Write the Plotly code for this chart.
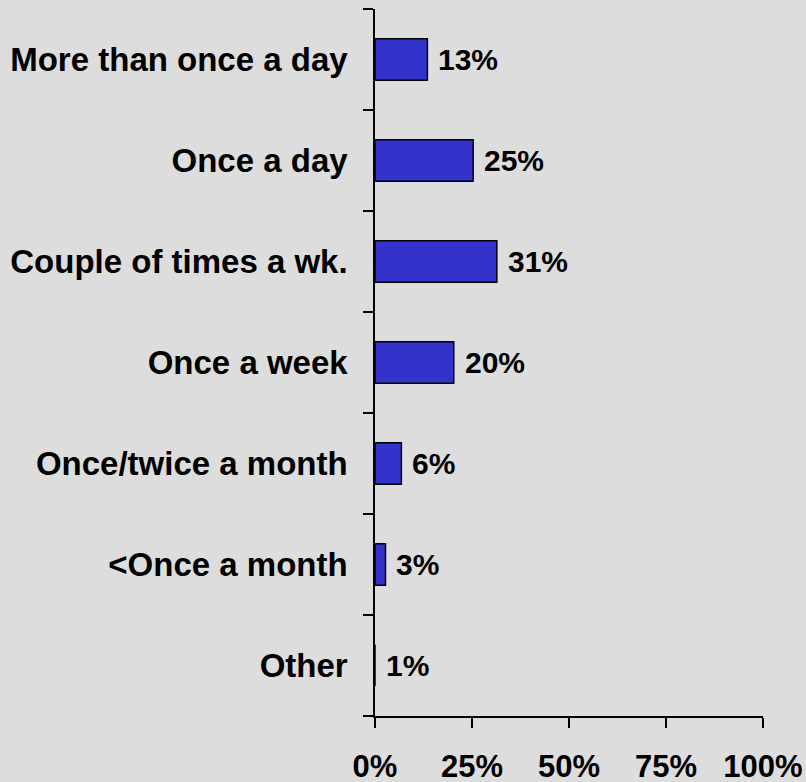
import plotly.graph_objects as go

categories = ["More than once a day", "Once a day", "Couple of times a wk.",
              "Once a week", "Once/twice a month", "<Once a month", "Other"]
values = [13.5, 25.3, 31.4, 20.3, 6.8, 2.7, 0.0]
labels = ["13%", "25%", "31%", "20%", "6%", "3%", "1%"]
tick_vals = [0, 25, 50, 75, 100]
tick_text = ["0%", "25%", "50%", "75%", "100%"]

BG = "#DDDDDD"
FONT = "Liberation Sans, Arial, sans-serif"

fig = go.Figure()
fig.add_trace(go.Bar(
    x=values, y=categories, orientation="h",
    marker=dict(color="#3333CC", line=dict(color="black", width=1.5)),
    hoverinfo="skip",
))

for c, v, t in zip(categories, values, labels):
    fig.add_annotation(x=v, y=c, text="<b>%s</b>" % t, showarrow=False,
                       xanchor="left", yanchor="middle", xshift=9,
                       font=dict(size=30, color="black", family=FONT))

fig.update_layout(
    width=806, height=782,
    margin=dict(l=374.5, r=42.5, t=9, b=66, autoexpand=False),
    paper_bgcolor=BG, plot_bgcolor=BG,
    showlegend=False, bargap=0.59,
    font=dict(family=FONT, color="black"),
)
fig.update_xaxes(
    range=[0, 100], tickvals=tick_vals, ticktext=["<b>%s</b>" % s for s in tick_text],
    showgrid=False, zeroline=False, showline=True, linecolor="black", linewidth=1.5,
    ticks="outside", ticklen=10, tickwidth=1.5, tickcolor="black",
    tickfont=dict(size=31, family=FONT), ticklabelstandoff=12, automargin=False,
)
fig.update_yaxes(
    categoryorder="array", categoryarray=categories, autorange="reversed",
    tickvals=categories, ticktext=["<b>%s</b>" % s for s in categories],
    tickson="boundaries",
    showgrid=False, zeroline=False, showline=True, linecolor="black", linewidth=1.5,
    ticks="outside", ticklen=10, tickwidth=1.5, tickcolor="black",
    tickfont=dict(size=33, family=FONT), ticklabelstandoff=19, automargin=False,
)

fig.write_html("out.html", config={"displayModeBar": False},
               post_script="document.body.style.margin='0';document.body.style.background='#DDDDDD';")
